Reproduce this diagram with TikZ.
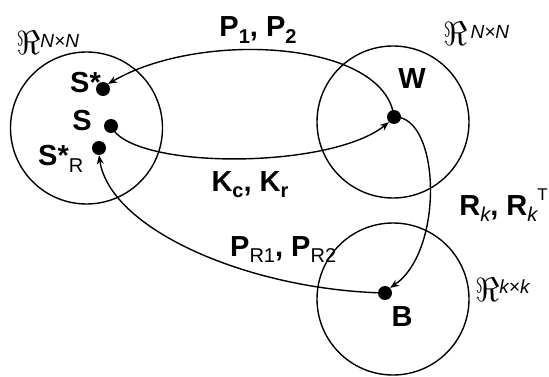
\documentclass[tikz,border=0pt]{standalone}
\usepackage{fontspec}
\usepackage{graphicx}
\setmainfont{Liberation Sans}
\usetikzlibrary{arrows.meta}
\newcommand\lblfont{\fontsize{29}{32}\selectfont\bfseries}
\newcommand\subx[1]{\raisebox{-0.22em}{\fontsize{20}{20}\selectfont #1}}
\newcommand\supx[1]{\raisebox{0.5em}{\fontsize{17}{17}\selectfont #1}}
\newcommand\reals[1]{\scalebox{1.35}{\fontsize{24.88}{26}\selectfont$\Re$}\raisebox{0.72em}{\fontsize{19}{19}\selectfont\itshape\mdseries #1}}
\begin{document}
\begin{tikzpicture}[x=1pt,y=-1pt,
  ring/.style={draw,line width=1.4pt},
  dotn/.style={circle,fill=black,inner sep=0pt,minimum size=14pt},
  lbl/.style={inner sep=0pt,font=\lblfont},
  conn/.style={line width=1.4pt,-{Stealth[length=9pt,width=7pt]}}]
\useasboundingbox (0,0) rectangle (549,377);
% spaces
\draw[ring] (86.5,128) circle (76);
\draw[ring] (393,122) circle (76);
\draw[ring] (393,299) circle (76);
\node[inner sep=0pt,anchor=base west] (r1) at (16,55) {\reals{N×N}};
\node[inner sep=0pt,anchor=base west] (r2) at (443,46) {\reals{\,N×N}};
\node[inner sep=0pt,anchor=base west] (r3) at (475,301) {\reals{k×k}};
% points
\node[dotn] (sst) at (103,89) {};
\node[dotn] (s) at (111,126) {};
\node[dotn] (ssr) at (99,148) {};
\node[dotn] (w) at (394,117) {};
\node[dotn] (b) at (385,293) {};
% point labels
\node[lbl,anchor=base east] (lsst) at (101,93) {S*};
\node[lbl,anchor=base] (ls) at (82,131) {S};
\node[lbl,anchor=base west] (lssr) at (38,166) {S*\subx{\mdseries R}};
\node[lbl,anchor=base] (lw) at (412,89) {W};
\node[lbl,anchor=base] (lb) at (402,326) {B};
% connectors
\draw[conn] (w.center) .. controls (385,40) and (200,30) .. (sst.north east);
\draw[conn] (s.center) .. controls (130,170) and (330,170) .. (w.south west);
\draw[conn] (w.center) .. controls (440,115) and (445,250) .. (b.north east);
\draw[conn] (b.center) .. controls (250,290) and (110,230) .. (ssr.south);
% edge labels
\node[lbl,anchor=base] (e1) at (258,37) {P\subx{1}, P\subx{2}};
\node[lbl,anchor=base] (e2) at (250,191) {K\subx{c}, K\subx{r}};
\node[lbl,anchor=base west] (e3) at (230,256) {P\subx{\mdseries R1}, P\subx{\mdseries R2}};
\node[lbl,anchor=base east] (e4) at (548,215) {R\subx{\mdseries\itshape k}, R\subx{\mdseries\itshape k}\supx{\mdseries T}};
\end{tikzpicture}
\end{document}
